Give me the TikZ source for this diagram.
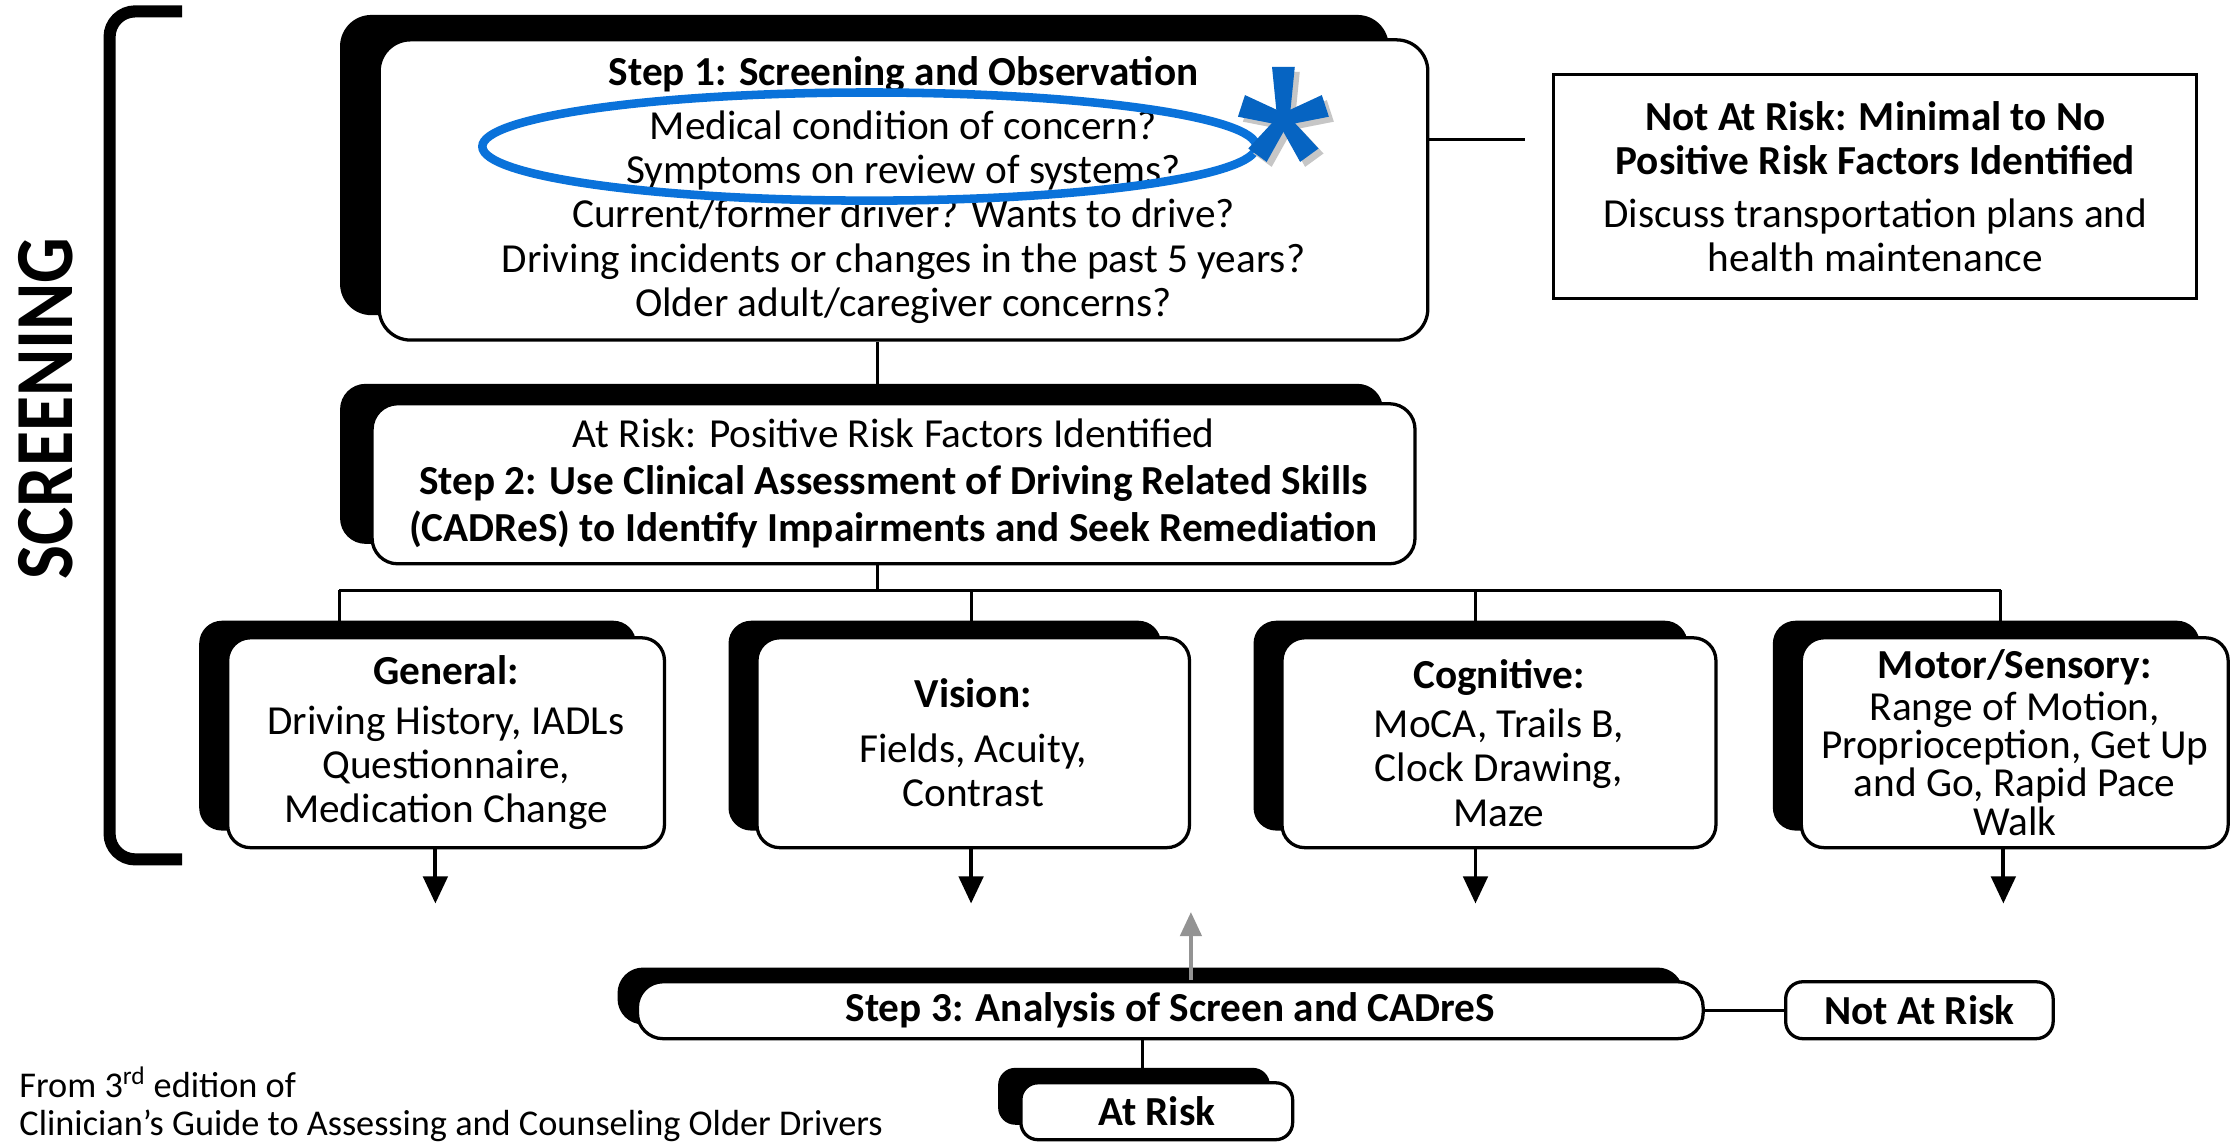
\documentclass[tikz,border=0pt]{standalone}
\usepackage{fontspec}
\setmainfont{Carlito}
\usepackage{graphicx}
\usetikzlibrary{shadows,arrows.meta,calc}
\definecolor{ellblue}{RGB}{10,114,218}
\definecolor{astblue}{RGB}{6,100,194}
\newcommand\astarms[1]{%
  \foreach \a/\L in {90/37, 162/31, 234/31, 306/31, 18/31} {
    \fill[#1] ($(\a:2)+(\a+90:4.5)$) -- ($(\a:\L)+(\a+90:8)$) -- ($(\a:\L)+(\a-90:8)$) -- ($(\a:2)+(\a-90:4.5)$) -- cycle;
  }
  \fill[#1] (0,0) circle (8);
}
\tikzset{
  base/.style={font=\fontsize{29}{31}\selectfont, align=center, inner sep=0pt},
  sbox/.style={base, draw, line width=2.3pt, fill=white},
  shad/.style 2 args={general shadow={fill=black, draw=none, shadow xshift=#1, shadow yshift=#2}},
  lbox/.style={sbox, rounded corners=16pt, minimum height=147.5pt, shad={-20pt}{12pt}},
  conn/.style={line width=2pt},
  arr/.style={line width=2.8pt, -{Triangle[length=19pt,width=17pt]}},
  garr/.style={line width=2.8pt, draw=gray!85, -{Triangle[length=17pt,width=15pt,fill=gray!85]}},
}
\begin{document}
\begin{tikzpicture}[x=1pt,y=-1pt]
\useasboundingbox[fill=white] (0,0) rectangle (1568,803);

% bracket and label
\draw[line width=8.5pt, rounded corners=18pt] (128,8) -- (77,8) -- (77,604) -- (128,604);
\node[font=\bfseries\fontsize{58}{58}\selectfont, rotate=90, inner sep=0pt] (scr) at (32,287) {\scalebox{0.87}[1]{SCREENING}};

% step 1
\node[sbox, rounded corners=22pt, minimum width=737pt, minimum height=211pt, shad={-27.5pt}{17.5pt}] (step1) at (635,133.5)
 {\textbf{Step 1: Screening and Observation}\\[7pt]
  Medical condition of concern?\\
  Symptoms on review of systems?\\
  Current/former driver? Wants to drive?\\
  Driving incidents or changes in the past 5 years?\\
  Older adult/caregiver concerns?};

% not at risk (top)
\node[base, draw, line width=2pt, fill=white, minimum width=452pt, minimum height=157pt] (nar1) at (1318,131)
 {\textbf{Not At Risk: Minimal to No}\\
  \textbf{Positive Risk Factors Identified}\\[6pt]
  Discuss transportation plans and\\
  health maintenance};
\coordinate (c1end) at (1072,97.8);
\draw[conn] (step1.east |- c1end) -- (c1end);

% step 2
\node[sbox, font=\fontsize{29}{33}\selectfont, rounded corners=18pt, minimum width=733pt, minimum height=112.5pt, shad={-22.5pt}{14pt}] (step2) at (628,340)
 {At Risk: Positive Risk Factors Identified\\
  \textbf{Step 2: Use Clinical Assessment of Driving Related Skills}\\
  \textbf{(CADReS) to Identify Impairments and Seek Remediation}};

\coordinate (s12) at (616.5,0);
\draw[conn] (s12 |- step1.south) -- (s12 |- step2.north);

% four boxes
\node[lbox, minimum width=307pt] (gen) at (313.5,522)
 {\textbf{General:}\\[4pt] Driving History, IADLs\\ Questionnaire,\\ Medication Change};
\node[lbox, minimum width=304pt] (vis) at (684,522)
 {\textbf{Vision:}\\[8pt] Fields, Acuity,\\ Contrast};
\node[lbox, minimum width=305pt] (cog) at (1053.5,522)
 {\textbf{Cognitive:}\\[4pt] MoCA, Trails B,\\ Clock Drawing,\\ Maze};
\node[lbox, font=\fontsize{29}{27}\selectfont, minimum width=300pt] (mot) at (1416,522)
 {\textbf{Motor/Sensory:}\\[2pt] Range of Motion,\\ Proprioception, Get Up\\ and Go, Rapid Pace\\ Walk};

% bus
\coordinate (busL) at (238.5,415);
\coordinate (busR) at (1406,415);
\coordinate (busV) at (682.5,415);
\coordinate (busC) at (1037,415);
\draw[conn] (s12 |- step2.south) -- (s12 |- busL);
\draw[conn] (busL) -- (busR);
\draw[conn] (busL) -- (busL |- gen.north);
\draw[conn] (busV) -- (busV |- vis.north);
\draw[conn] (busC) -- (busC |- cog.north);
\draw[conn] (busR) -- (busR |- mot.north);

% down arrows
\coordinate (ga) at (306,635);
\coordinate (va) at (682.5,635);
\coordinate (ca) at (1037,635);
\coordinate (ma) at (1408,635);
\draw[arr] (ga |- gen.south) -- (ga);
\draw[arr] (va |- vis.south) -- (va);
\draw[arr] (ca |- cog.south) -- (ca);
\draw[arr] (ma |- mot.south) -- (ma);

% step 3
\node[sbox, rounded corners=18pt, minimum width=749pt, minimum height=40pt, shad={-14pt}{10pt}] (step3) at (822.5,710)
 {\textbf{Step 3: Analysis of Screen and CADreS}};
\node[sbox, rounded corners=12pt, minimum width=188pt, minimum height=40pt] (nar2) at (1349,710) {\textbf{Not At Risk}};
\node[sbox, rounded corners=12pt, minimum width=191pt, minimum height=40pt, shad={-16pt}{10.5pt}] (atrisk) at (813,781) {\textbf{At Risk}};
\draw[conn] (step3.east) -- (nar2.west);
\coordinate (s3x) at (803,0);
\draw[conn] (s3x |- step3.south) -- (s3x |- atrisk.north);
\coordinate (gup) at (837,641);
\draw[garr] (gup |- step3.north) -- (gup);

% source note
\node[anchor=west, font=\fontsize{25.5}{27}\selectfont, align=left, inner sep=0pt] (src) at (13.5,776)
 {From 3\textsuperscript{rd} edition of\\ Clinician’s Guide to Assessing and Counseling Older Drivers};

% blue highlight
\draw[ellblue, line width=6pt] (611,103) ellipse [x radius=272pt, y radius=38pt];
\begin{scope}[shift={(905.5,87.5)}, yscale=-1]
  \astarms{gray!45}
\end{scope}
\begin{scope}[shift={(902,84)}, yscale=-1]
  \astarms{astblue}
\end{scope}
\end{tikzpicture}
\end{document}
